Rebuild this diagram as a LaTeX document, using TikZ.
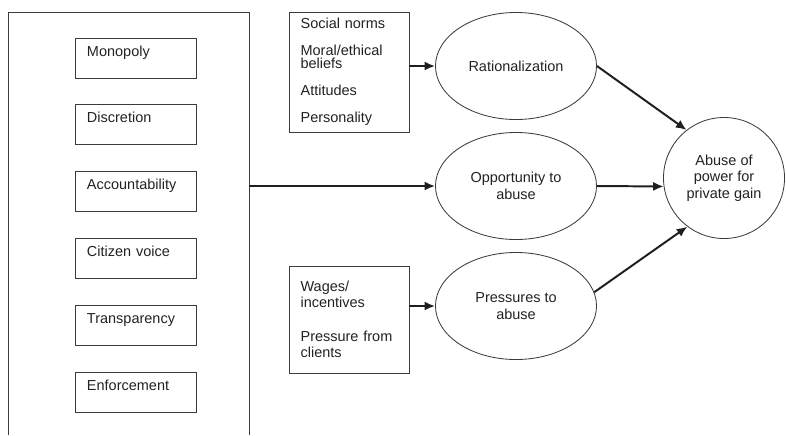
\documentclass[tikz,border=0pt]{standalone}
\usepackage{fontspec}
\setmainfont{Liberation Sans}
\usetikzlibrary{arrows.meta,positioning,shapes.geometric}
\definecolor{dline}{HTML}{3C3C3C}
\definecolor{dtext}{HTML}{222222}
\tikzset{
  lever/.style={draw=dline,line width=0.6pt,text=dtext,align=left,font=\fontsize{10.3}{12}\selectfont,inner xsep=0.3cm,inner ysep=0pt,text width=2.425cm,minimum height=1cm,text height=7.5pt,text depth=10.3pt},
  drv/.style={draw=dline,line width=0.6pt,text=dtext,align=left,inner xsep=0.29cm,inner ysep=0pt,text width=2.42cm},
  ell/.style={ellipse,draw=dline,line width=0.6pt,text=dtext,align=center,font=\fontsize{10.3}{12}\selectfont,inner sep=0pt,minimum width=4.025cm,minimum height=2.675cm},
  goal/.style={circle,draw=dline,line width=0.6pt,text=dtext,align=center,font=\fontsize{10.3}{11.7}\selectfont,inner sep=0pt,minimum size=3.025cm},
  arr/.style={-{Latex[length=7.5pt,width=6.5pt]},line width=1.4pt,draw=black!88},
}

\begin{document}
\begin{tikzpicture}[x=0.025cm,y=-0.025cm]
  \def\u{0.025}
  \useasboundingbox (0,0) rectangle (786,435);
  % governance panel, open at the bottom
  \draw[dline,line width=0.6pt] (8,435) |- (249,12) -- (249,435);
  \coordinate (panel) at (249,186);
  \foreach \t [count=\i] in {Monopoly,Discretion,Accountability,Citizen voice,Transparency,Enforcement}
    \node[lever] (lever\i) at (135.5,{58+(\i-1)*66.8}) {\t};
  % the three routes and the outcome
  \node[ell] (rat) at (516,66) {Rationalization};
  \node[ell] (opp) at (516,186) {Opportunity to\\abuse};
  \node[ell] (pres) at (516,306) {Pressures to\\abuse};
  \node[goal] (abuse) at (724,178) {Abuse of\\power for\\private gain};
  % driver boxes
  \node[drv,minimum height={120*\u cm},font=\fontsize{10.3}{9.5}\selectfont] (norms) at (349,72)
    {\lineskiplimit=-4pt\relax Social norms\\[9.6pt]Moral/ethical\\beliefs\\[9.6pt]Attitudes\\[9.6pt]Personality};
  \node[drv,minimum height={107*\u cm},font=\fontsize{10.3}{11.3}\selectfont] (wages) at (349,319.5)
    {Wages/\\incentives\\[12.7pt]Pressure from\\clients};
  % arrows
  \draw[arr] (rat.west -| norms.east) -- (rat.west);
  \draw[arr] (pres.west -| wages.east) -- (pres.west);
  \draw[arr] (panel) -- (opp.west);
  \draw[arr] (rat.east) -- (abuse.128);
  \draw[arr] (opp.east) -- (abuse.188);
  \draw[arr] (pres.10) -- (abuse.233);
\end{tikzpicture}
\end{document}
